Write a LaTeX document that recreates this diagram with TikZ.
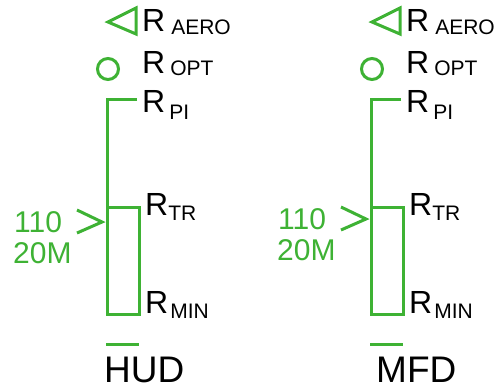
\documentclass[tikz,border=0pt]{standalone}
\usepackage{fontspec}
\setmainfont{Liberation Sans}
\usepackage{tikz}
\usetikzlibrary{positioning}
\definecolor{SymGreen}{RGB}{62,178,52}
% R with a lowered, smaller tag: kern, drop, text
\newcommand{\Rtag}[3]{R\kern#1pt\raisebox{-#2pt}{\fontsize{21}{21}\selectfont #3}}

\begin{document}
\begin{tikzpicture}[x=1pt,y=-1pt,
  sym/.style={draw=SymGreen,line width=3pt,line join=miter},
  lbl/.style={anchor=base west,inner sep=0pt,font=\fontsize{32}{32}\selectfont},
  rdout/.style={anchor=base west,inner sep=0pt,text=SymGreen,font=\fontsize{30}{30}\selectfont},
  disp/.style={anchor=base west,inner sep=0pt,font=\fontsize{37}{37}\selectfont}]
\useasboundingbox (0,0) rectangle (500,390);
% one range scale per display
\foreach \dx/\dy/\lab/\lx/\ly in {0/0/HUD/104/382,264/-3/MFD/112/382}{
\begin{scope}[xshift=\dx]
  % symbols
  \draw[sym] (108,22) -- (136,8) -- (136,34) -- cycle;
  \draw[sym] (108,69) circle (10.5);
  \draw[sym] (137,100) -- (107,100) -- (107,207);
  \draw[sym] (107,207) rectangle (139,314);
  \draw[sym] (77,210+\dy) -- (102,222+\dy) -- (77,233+\dy);
  \draw[sym] (106,344) -- (139,344);
  % labels
  \node[lbl] (aero-\lab) at (142,32) {\Rtag{6}{3}{AERO}};
  \node[lbl] (opt-\lab) at (142,74) {\Rtag{5}{2}{OPT}};
  \node[lbl] (pi-\lab) at (142,113) {\Rtag{4}{7}{PI}};
  \node[lbl] (tr-\lab) at (145,215) {\Rtag{0}{5}{TR}};
  \node[lbl] (min-\lab) at (145,313) {\Rtag{2}{5}{MIN}};
  \node[rdout] (spd-\lab) at (14,232+\dy) {110};
  \node[rdout] (alt-\lab) at (13,263+\dy) {20M};
  \node[disp] (name-\lab) at (\lx,\ly) {\lab};
\end{scope}
}
\end{tikzpicture}
\end{document}
